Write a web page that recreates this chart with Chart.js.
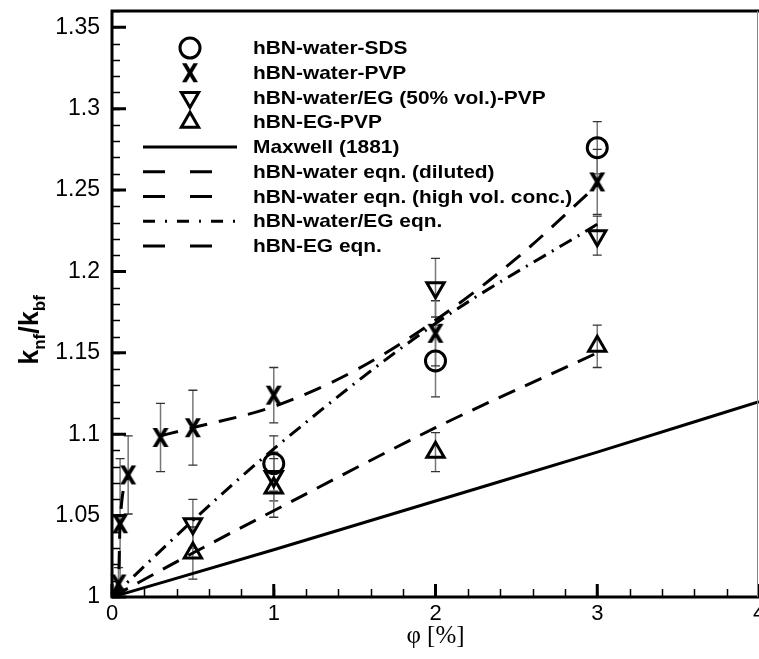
<!DOCTYPE html>
<html>
<head>
<meta charset="utf-8">
<script src="https://cdn.jsdelivr.net/npm/chart.js@4.4.0/dist/chart.umd.min.js"></script>
<style>
  html, body { margin: 0; padding: 0; background: #fff; }
  #wrap { width: 759px; height: 659px; }
</style>
</head>
<body>
<div id="wrap"><canvas id="chart" width="759" height="659"></canvas></div>
<script>
// Graduations des axes
const xTicks = [0, 1, 2, 3, 4];
const yTicks = [1, 1.05, 1.1, 1.15, 1.2, 1.25, 1.3, 1.35];
const yTickLabels = ['1', '1.05', '1.1', '1.15', '1.2', '1.25', '1.3', '1.35'];

const sdsX = [1, 2, 3];
const sdsY = [1.082, 1.145, 1.276];
const sdsErr = [0.017, 0.022, 0.016];

const pvpX = [0.04, 0.05, 0.1, 0.3, 0.5, 1, 2, 3];
const pvpY = [1.008, 1.045, 1.075, 1.098, 1.104, 1.124, 1.162, 1.255];
const pvpErr = [0.01, 0.04, 0.024, 0.021, 0.023, 0.017, 0.02, 0.02];

const mixX = [0.5, 1, 2, 3];
const mixY = [1.045, 1.074, 1.19, 1.222];
const mixErr = [0.015, 0.015, 0.018, 0.012];

const egX = [0.5, 1, 2, 3];
const egY = [1.027, 1.067, 1.089, 1.154];
const egErr = [0.016, 0.018, 0.012, 0.013];

// Courbes (modèles)
const maxwellX = [0, 1, 2, 3, 4];
const maxwellY = [1, 1.029, 1.059, 1.089, 1.12];

const dilutedX = [0, 0.04, 0.05, 0.1];
const dilutedY = [1, 1.01, 1.045, 1.075];

const highX = [0.3, 0.5, 1, 1.5, 2, 2.5, 3];
const highY = [1.099, 1.104, 1.117, 1.139, 1.17, 1.208, 1.253];

const mixEqnX = [0, 0.5, 1, 2, 3];
const mixEqnY = [1, 1.047, 1.091, 1.168, 1.229];

const egEqnX = [0, 0.5, 1, 2, 3];
const egEqnY = [1, 1.027, 1.053, 1.104, 1.15];

const FONT = '"Liberation Sans", Arial, sans-serif';

function pts(xs, ys) {
    return xs.map((x, i) => ({ x: x, y: ys[i] }));
}

// Symbole "X" un peu plus haut que large, comme sur la figure
function makeCross() {
    const c = document.createElement('canvas');
    c.width = 18; c.height = 21;
    const g = c.getContext('2d');
    g.fillStyle = '#000';
    g.beginPath();
    g.moveTo(1, 1); g.lineTo(5.5, 1); g.lineTo(17, 20); g.lineTo(12.5, 20);
    g.closePath();
    g.fill();
    g.beginPath();
    g.moveTo(12.5, 1); g.lineTo(17, 1); g.lineTo(5.5, 20); g.lineTo(1, 20);
    g.closePath();
    g.fill();
    return c;
}

function markerSet(label, xs, ys, errs, style, radius, width, rotation) {
    return {
        label: label, data: pts(xs, ys), errors: errs, showLine: false,
        pointStyle: style, pointRadius: radius, pointBorderWidth: width,
        pointRotation: rotation || 0, pointBorderColor: '#000',
        pointBackgroundColor: 'rgba(0,0,0,0)', clip: false
    };
}

function lineSet(label, xs, ys, dash, legendDash) {
    return {
        label: label, data: pts(xs, ys), showLine: true, pointRadius: 0,
        borderColor: '#000', borderWidth: 3, borderDash: dash,
        borderCapStyle: 'butt', legendDash: legendDash,
        cubicInterpolationMode: 'monotone'
    };
}

const crossImg = makeCross();

const datasets = [
    markerSet('hBN-water-SDS', sdsX, sdsY, sdsErr, 'circle', 10, 3),
    markerSet('hBN-water-PVP', pvpX, pvpY, pvpErr, crossImg, 10, 0),
    markerSet('hBN-water/EG (50% vol.)-PVP', mixX, mixY, mixErr, 'triangle', 10, 3, 180),
    markerSet('hBN-EG-PVP', egX, egY, egErr, 'triangle', 10, 3),
    lineSet('Maxwell (1881)', maxwellX, maxwellY, [], []),
    lineSet('hBN-water eqn. (diluted)', dilutedX, dilutedY, [18, 12], [22, 25]),
    lineSet('hBN-water eqn. (high vol. conc.)', highX, highY, [18, 12], [22, 25]),
    lineSet('hBN-water/EG eqn.', mixEqnX, mixEqnY, [14, 7, 2, 7], [12, 10, 2, 10]),
    lineSet('hBN-EG eqn.', egEqnX, egEqnY, [18, 11], [22, 25])
];

// Barres d'erreur
const errorBars = {
    id: 'errorBars',
    beforeDatasetsDraw(chart) {
        const ctx = chart.ctx, xs = chart.scales.x, ys = chart.scales.y;
        const a = chart.chartArea;
        ctx.save();
        ctx.beginPath();
        ctx.rect(a.left, a.top, a.right - a.left, a.bottom - a.top);
        ctx.clip();
        chart.data.datasets.forEach(ds => {
            if (!ds.errors) return;
            ds.data.forEach((p, i) => {
                const px = xs.getPixelForValue(p.x);
                const top = ys.getPixelForValue(p.y + ds.errors[i]);
                const bot = ys.getPixelForValue(p.y - ds.errors[i]);
                ctx.strokeStyle = '#777';
                ctx.lineWidth = 1.5;
                ctx.beginPath();
                ctx.moveTo(px, top); ctx.lineTo(px, bot);
                ctx.stroke();
                ctx.strokeStyle = '#333';
                ctx.lineWidth = 1.3;
                ctx.beginPath();
                ctx.moveTo(px - 4.5, top); ctx.lineTo(px + 4.5, top);
                ctx.moveTo(px - 4.5, bot); ctx.lineTo(px + 4.5, bot);
                ctx.stroke();
            });
        });
        ctx.restore();
    }
};

// Cadre, graduations vers l'intérieur, légende et titre vertical
const decorations = {
    id: 'decorations',
    afterDraw(chart) {
        const ctx = chart.ctx, xs = chart.scales.x, ys = chart.scales.y;
        const a = chart.chartArea;
        ctx.save();
        ctx.strokeStyle = '#000';
        ctx.lineCap = 'butt';

        // graduations mineures
        ctx.lineWidth = 1.5;
        ctx.beginPath();
        for (let v = 0; v <= 4.0001; v += 0.2) {
            const px = Math.round(xs.getPixelForValue(v)) + 0.5;
            ctx.moveTo(px, a.bottom); ctx.lineTo(px, a.bottom - 8);
        }
        for (let v = 1; v <= 1.3601; v += 0.01) {
            const py = Math.round(ys.getPixelForValue(v)) + 0.5;
            ctx.moveTo(a.left, py); ctx.lineTo(a.left + 8, py);
        }
        ctx.stroke();
        // graduations majeures
        ctx.lineWidth = 3;
        ctx.beginPath();
        xTicks.forEach(v => {
            const px = xs.getPixelForValue(v);
            ctx.moveTo(px, a.bottom); ctx.lineTo(px, a.bottom - 13);
        });
        yTicks.forEach(v => {
            const py = ys.getPixelForValue(v);
            ctx.moveTo(a.left, py); ctx.lineTo(a.left + 14, py);
        });
        ctx.stroke();

        // cadre
        ctx.lineWidth = 3;
        ctx.beginPath();
        ctx.moveTo(a.right, a.top); ctx.lineTo(a.left, a.top);
        ctx.lineTo(a.left, a.bottom); ctx.lineTo(a.right, a.bottom);
        ctx.stroke();
        ctx.strokeStyle = '#888';
        ctx.lineWidth = 1;
        ctx.beginPath();
        ctx.moveTo(a.right - 1.5, a.top); ctx.lineTo(a.right - 1.5, a.bottom);
        ctx.stroke();

        // légende
        const lx = 190, tx = 253, y0 = 48, dy = 24.75;
        chart.data.datasets.forEach((ds, i) => {
            const y = y0 + i * dy;
            ctx.strokeStyle = '#000';
            ctx.fillStyle = 'rgba(0,0,0,0)';
            if (ds.showLine) {
                ctx.lineWidth = 3;
                ctx.setLineDash(ds.legendDash);
                ctx.beginPath();
                ctx.moveTo(lx - 47, y); ctx.lineTo(lx + 47, y);
                ctx.stroke();
                ctx.setLineDash([]);
            } else {
                ctx.lineWidth = ds.pointBorderWidth;
                Chart.helpers.drawPoint(ctx, {
                    pointStyle: ds.pointStyle, radius: ds.pointRadius,
                    rotation: ds.pointRotation, borderWidth: ds.pointBorderWidth
                }, lx, y);
            }
            ctx.save();
            ctx.translate(tx, y);
            ctx.scale(1.1, 1);
            ctx.fillStyle = '#000';
            ctx.font = 'bold 19px ' + FONT;
            ctx.textBaseline = 'middle';
            ctx.textAlign = 'left';
            ctx.fillText(ds.label, 0, 1);
            ctx.restore();
        });

        // titre de l'axe y : k_nf / k_bf
        const parts = [
            { t: 'k', s: 27, d: 0 }, { t: 'nf', s: 17, d: 7 },
            { t: '/k', s: 27, d: 0 }, { t: 'bf', s: 17, d: 7 }
        ];
        let total = 0;
        parts.forEach(p => {
            ctx.font = 'bold ' + p.s + 'px ' + FONT;
            p.w = ctx.measureText(p.t).width;
            total += p.w;
        });
        ctx.save();
        ctx.translate(38, 330);
        ctx.rotate(-Math.PI / 2);
        ctx.fillStyle = '#000';
        ctx.textBaseline = 'alphabetic';
        let cx = -total / 2;
        parts.forEach(p => {
            ctx.font = 'bold ' + p.s + 'px ' + FONT;
            ctx.fillText(p.t, cx, p.d);
            cx += p.w;
        });
        ctx.restore();
        ctx.restore();
    }
};

const ctx = document.getElementById('chart').getContext('2d');
new Chart(ctx, {
    type: 'scatter',
    data: { datasets: datasets },
    options: {
        responsive: false,
        animation: false,
        layout: { autoPadding: false, padding: { top: 11, right: 0, left: 0, bottom: 0 } },
        plugins: { legend: { display: false }, tooltip: { enabled: false } },
        scales: {
            x: {
                type: 'linear', min: 0, max: 4,
                afterFit: s => { s.height = 62; s.paddingLeft = 0; s.paddingRight = 0; },
                afterBuildTicks: s => { s.ticks = xTicks.map(v => ({ value: v })); },
                grid: { display: false, drawTicks: false },
                border: { display: false },
                ticks: {
                    color: '#000', padding: 4, maxRotation: 0,
                    font: { family: FONT, size: 22 },
                    callback: v => String(v)
                },
                title: {
                    display: true, text: 'φ [%]', color: '#000',
                    font: { family: '"Liberation Serif", "Times New Roman", serif', size: 25 },
                    padding: { top: 0, bottom: 8 }
                }
            },
            y: {
                type: 'linear', min: 1, max: 1.36,
                afterFit: s => { s.width = 112; s.paddingTop = 0; s.paddingBottom = 0; },
                afterBuildTicks: s => { s.ticks = yTicks.map(v => ({ value: v })); },
                grid: { display: false, drawTicks: false },
                border: { display: false },
                ticks: {
                    color: '#000', padding: 12,
                    font: { family: FONT, size: 23 },
                    callback: v => {
                        const i = yTicks.findIndex(t => Math.abs(t - v) < 1e-6);
                        return i >= 0 ? yTickLabels[i] : '';
                    }
                }
            }
        }
    },
    plugins: [errorBars, decorations]
});
</script>
</body>
</html>
